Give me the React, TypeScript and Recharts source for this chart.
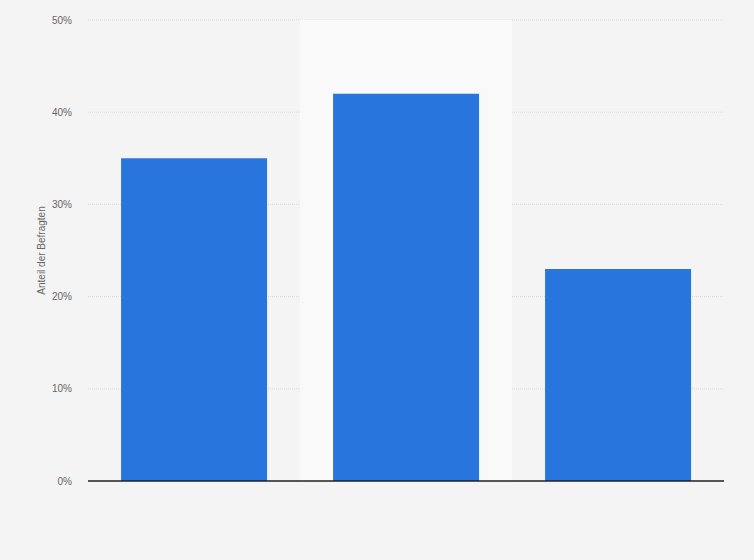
import React from "react";
import { BarChart, Bar, XAxis, YAxis, CartesianGrid, ReferenceArea, ReferenceLine } from "recharts";

const categories = ["A", "B", "C"];
const shares = [35, 42, 23];
const yTicks = [0, 10, 20, 30, 40, 50];
const highlighted = "B";

const data = categories.map((c, i) => ({ name: c, value: shares[i] }));

const font = "'Liberation Sans', Arial, sans-serif";

export default function App() {
  return (
    <div style={{ position: "fixed", top: 0, left: 0, width: 754, height: 560, background: "#f4f4f4" }}>
      <BarChart
        width={754}
        height={560}
        data={data}
        margin={{ top: 20, right: 30, left: 0, bottom: 79 }}
        barCategoryGap="15.6%"
      >
        <ReferenceArea x1={highlighted} x2={highlighted} fill="#f9f9f9" fillOpacity={1} stroke="none" ifOverflow="visible" />
        <CartesianGrid vertical={false} stroke="#d9d9d9" strokeDasharray="1 1" />
        <XAxis dataKey="name" tick={false} axisLine={false} tickLine={false} height={0} />
        <YAxis
          width={88}
          domain={[0, 50]}
          ticks={yTicks}
          tickFormatter={(v: number) => `${v}%`}
          axisLine={false}
          tickLine={false}
          tickMargin={10}
          tick={{ fontSize: 10, fill: "#666", fontFamily: font }}
          label={{
            value: "Anteil der Befragten",
            angle: -90,
            position: "insideLeft",
            dx: 36,
            style: { fontSize: 10, fill: "#666", fontFamily: font, textAnchor: "middle" },
          }}
        />
        <Bar dataKey="value" fill="#2876dd" isAnimationActive={false} />
        <ReferenceLine y={0} stroke="#222" strokeWidth={1.5} />
      </BarChart>
    </div>
  );
}
